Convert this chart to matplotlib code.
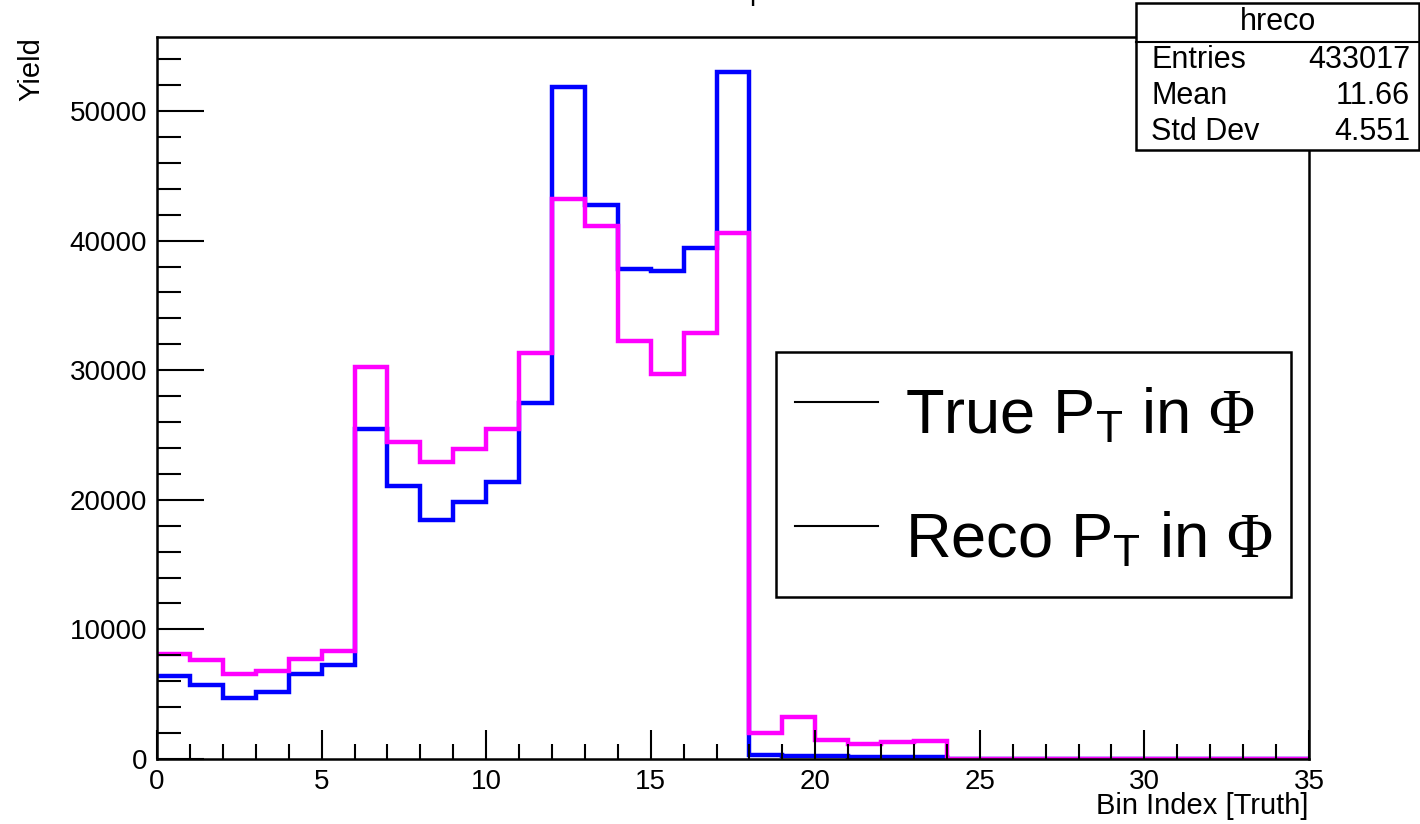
import matplotlib.pyplot as plt
import numpy as np
from matplotlib.lines import Line2D
from matplotlib.patches import Rectangle
from matplotlib.ticker import MultipleLocator

plt.rcParams['font.family'] = ['Liberation Sans', 'DejaVu Sans']
plt.rcParams['mathtext.fontset'] = 'custom'
plt.rcParams['mathtext.rm'] = 'Liberation Serif'
plt.rcParams['mathtext.sf'] = 'Liberation Sans'

# bin edges 0..35, one unit per bin
edges = np.arange(0, 36)

# True P_T in Phi (blue)
true_pt = [6400, 5710, 4680, 5170, 6530, 7230,
           25490, 21090, 18440, 19810, 21350, 27490,
           51830, 42750, 37780, 37680, 39400, 53030,
           300, 250, 200, 180, 170, 150,
           0, 0, 0, 0, 0, 0, 0, 0, 0, 0, 0]

# Reco P_T in Phi (magenta) -> hreco
reco_pt = [8100, 7640, 6530, 6810, 7720, 8310,
           30220, 24430, 22890, 23940, 25460, 31350,
           43230, 41130, 32250, 29680, 32870, 40560,
           1980, 3220, 1470, 1130, 1290, 1370,
           0, 0, 0, 0, 0, 0, 0, 0, 0, 0, 0]

stats_name = 'hreco'
stats_rows = [('Entries', '433017'), ('Mean', '11.66'), ('Std Dev', '4.551')]
legend_labels = [r'True $\mathsf{P_T}$ in $\Phi$', r'Reco $\mathsf{P_T}$ in $\Phi$']

fig = plt.figure(figsize=(14.2, 8.24), dpi=100)
ax = fig.add_axes([0.1106, 0.0789, 0.8112, 0.8762])

ax.stairs(true_pt, edges, color='#0000ff', linewidth=3.2, baseline=None)
ax.stairs(reco_pt, edges, color='#ff00ff', linewidth=3.2, baseline=None)

ax.set_xlim(0, 35)
ax.set_ylim(0, 55710)

ax.xaxis.set_major_locator(MultipleLocator(5))
ax.xaxis.set_minor_locator(MultipleLocator(1))
ax.yaxis.set_major_locator(MultipleLocator(10000))
ax.yaxis.set_minor_locator(MultipleLocator(2000))
ax.tick_params(axis='x', which='major', direction='in', length=21, width=1.5,
               labelsize=20, pad=7)
ax.tick_params(axis='x', which='minor', direction='in', length=11, width=1.5)
ax.tick_params(axis='y', which='major', direction='in', length=34, width=1.5,
               labelsize=20, pad=7)
ax.tick_params(axis='y', which='minor', direction='in', length=17, width=1.5)
for s in ax.spines.values():
    s.set_linewidth(1.8)

ax.set_xlabel('Bin Index [Truth]', fontsize=21, loc='right')
ax.xaxis.set_label_coords(1.0, -0.046)
ax.set_ylabel('Yield', fontsize=21, loc='top')
ax.yaxis.set_label_coords(-0.097, 1.0)

# legend with black line handles
handles = [Line2D([], [], color='black', linewidth=1.5) for _ in legend_labels]
leg = ax.legend(handles, legend_labels, fontsize=45.5, loc='upper left',
                bbox_to_anchor=(776 / 1420, 1 - 352 / 824),
                bbox_transform=fig.transFigure, borderaxespad=0,
                handlelength=1.31, handleheight=1.67, handletextpad=0.43,
                labelspacing=0.62, borderpad=0.3, fancybox=False,
                framealpha=1, edgecolor='black')
leg.get_frame().set_linewidth(1.8)

# stats box (top right)
x0, x1 = 1136 / 1420, 1419 / 1420
y0, y1 = 1 - 150 / 824, 1 - 3 / 824
fig.patches.append(Rectangle((x0, y0), x1 - x0, y1 - y0, transform=fig.transFigure,
                             facecolor='white', edgecolor='black', linewidth=1.8,
                             zorder=5))
fig.add_artist(Line2D([x0, x1], [1 - 42 / 824] * 2, color='black', linewidth=1.5,
                      transform=fig.transFigure, zorder=6))
fig.text((x0 + x1) / 2, 1 - 22 / 824, stats_name, fontsize=22, ha='center',
         va='center', zorder=7)
for i, (k, v) in enumerate(stats_rows):
    yy = 1 - (60 + 36 * i) / 824
    fig.text(1151 / 1420, yy, k, fontsize=22, ha='left', va='center', zorder=7)
    fig.text(1410 / 1420, yy, v, fontsize=22, ha='right', va='center', zorder=7)

# title is cut off by the top of the canvas; only a descender shows
fig.text(749 / 1420, 1.0, 'p', fontsize=20, ha='left', va='baseline')

plt.savefig('out.png', dpi=100)
